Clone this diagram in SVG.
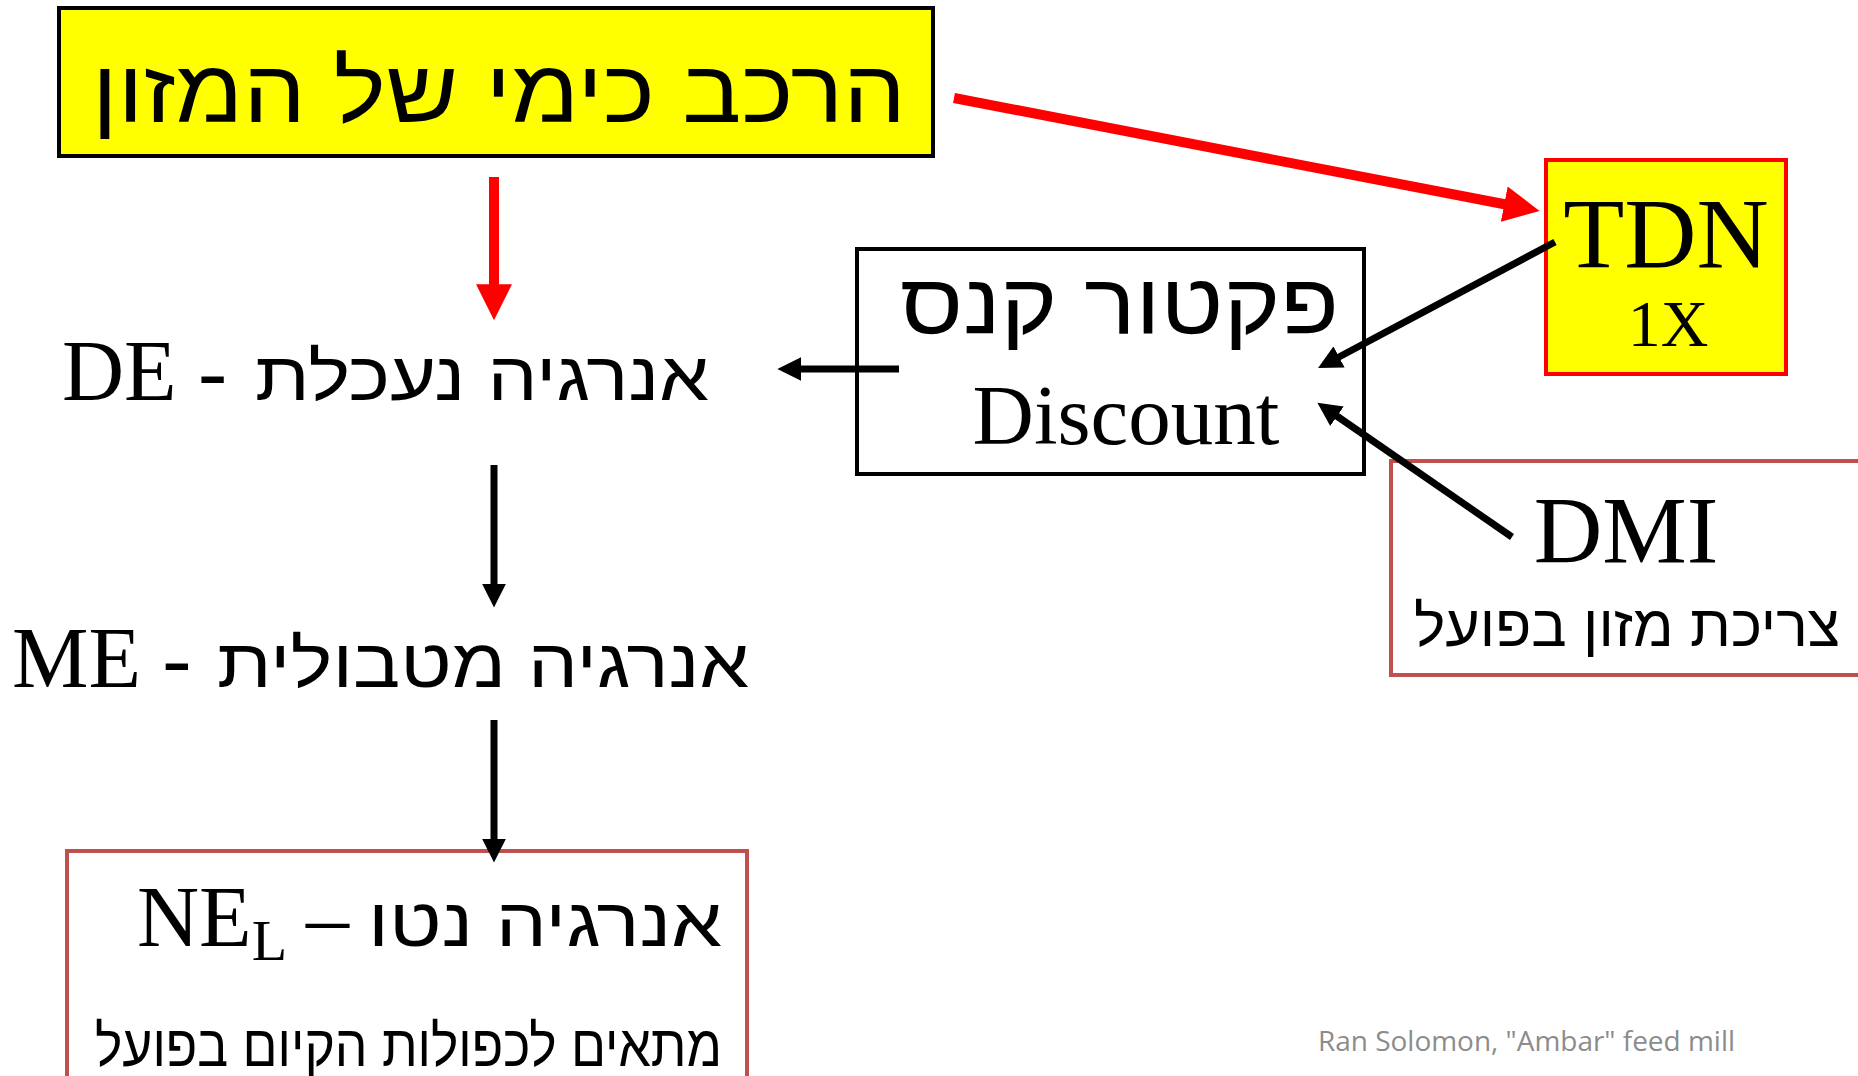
<svg xmlns="http://www.w3.org/2000/svg" width="1858" height="1076" viewBox="0 0 1858 1076">
<defs>
<style>
.serif{font-family:"Liberation Serif","Times New Roman",serif;fill:#000}
.heb{font-family:"Liberation Sans","DejaVu Sans",sans-serif;fill:#000}
.red{stroke:#FF0000;fill:none;stroke-width:10}
.blk{stroke:#000;fill:none;stroke-width:7}
</style>
<marker id="ahR" viewBox="0 0 10 10" refX="0.5" refY="5" markerWidth="3.6" markerHeight="3.6" markerUnits="strokeWidth" orient="auto">
<path d="M0,0 L10,5 L0,10 Z" fill="#FF0000"/>
</marker>
<marker id="ahB" viewBox="0 0 10 10" refX="0.5" refY="5" markerWidth="3.4" markerHeight="3.4" markerUnits="strokeWidth" orient="auto">
<path d="M0,0 L10,5 L0,10 Z" fill="#000"/>
</marker>
</defs>
<rect width="1858" height="1076" fill="#fff"/>
<g id="title">
<rect x="59" y="8" width="874" height="148" fill="#FFFF00" stroke="#000" stroke-width="4"/>
<text class="heb" x="906" y="122" font-size="88" text-anchor="end" textLength="814" lengthAdjust="spacingAndGlyphs">הרכב כימי של המזון</text>
</g>
<g id="tdn">
<rect x="1546" y="160" width="240" height="214" fill="#FFFF00" stroke="#FF0000" stroke-width="4"/>
<text class="serif" x="1666" y="267" font-size="100" text-anchor="middle">TDN</text>
<text class="serif" x="1668" y="346" font-size="66" text-anchor="middle">1X</text>
</g>
<g id="discount">
<rect x="857" y="249" width="507" height="225" fill="none" stroke="#000" stroke-width="4"/>
<text class="heb" x="1339" y="334" font-size="86" text-anchor="end" textLength="439" lengthAdjust="spacingAndGlyphs">פקטור קנס</text>
<text class="serif" x="1126" y="444" font-size="85" text-anchor="middle">Discount</text>
</g>
<g id="dmi">
<rect x="1391" y="461" width="480" height="214" fill="none" stroke="#C0504D" stroke-width="4"/>
<text class="serif" x="1626" y="563" font-size="95" text-anchor="middle">DMI</text>
<text class="heb" x="1840" y="646" font-size="58" text-anchor="end" textLength="426" lengthAdjust="spacingAndGlyphs">צריכת מזון בפועל</text>
</g>
<g id="de">
<text class="heb" x="709" y="400" font-size="68" text-anchor="end" textLength="454" lengthAdjust="spacingAndGlyphs">אנרגיה נעכלת</text>
<text class="serif" x="62" y="400" font-size="86">DE -</text>
</g>
<g id="me">
<text class="heb" x="749" y="687" font-size="68" text-anchor="end" textLength="532" lengthAdjust="spacingAndGlyphs">אנרגיה מטבולית</text>
<text class="serif" x="12" y="687" font-size="86">ME -</text>
</g>
<g id="nel">
<rect x="67" y="851" width="680" height="240" fill="none" stroke="#C0504D" stroke-width="4"/>
<text class="heb" x="722" y="946" font-size="68" text-anchor="end" textLength="354" lengthAdjust="spacingAndGlyphs">אנרגיה נטו</text>
<text class="serif" x="306" y="946" font-size="86">–</text>
<text class="serif" x="137" y="946" font-size="86">NE<tspan font-size="58" dy="14">L</tspan></text>
<text class="heb" x="722" y="1066" font-size="58" text-anchor="end" textLength="627" lengthAdjust="spacingAndGlyphs">מתאים לכפולות הקיום בפועל</text>
</g>
<g id="footer">
<text x="1318" y="1051" font-family="'Open Sans','Liberation Sans',sans-serif" font-size="28" fill="#8C8C8C" textLength="417" lengthAdjust="spacingAndGlyphs">Ran Solomon, "Ambar" feed mill</text>
</g>
<g id="connectors">
<line class="red" x1="494" y1="177" x2="494" y2="286" marker-end="url(#ahR)"/>
<line class="red" x1="954" y1="98" x2="1506" y2="204.5" marker-end="url(#ahR)"/>
<line class="blk" x1="899" y1="369" x2="800" y2="369" marker-end="url(#ahB)"/>
<line class="blk" x1="1555" y1="242" x2="1338" y2="357.5" marker-end="url(#ahB)"/>
<line class="blk" x1="1512" y1="537" x2="1336" y2="415.5" marker-end="url(#ahB)"/>
<line class="blk" x1="494" y1="465" x2="494" y2="585" marker-end="url(#ahB)"/>
<line class="blk" x1="494" y1="720" x2="494" y2="840" marker-end="url(#ahB)"/>
</g>
</svg>
